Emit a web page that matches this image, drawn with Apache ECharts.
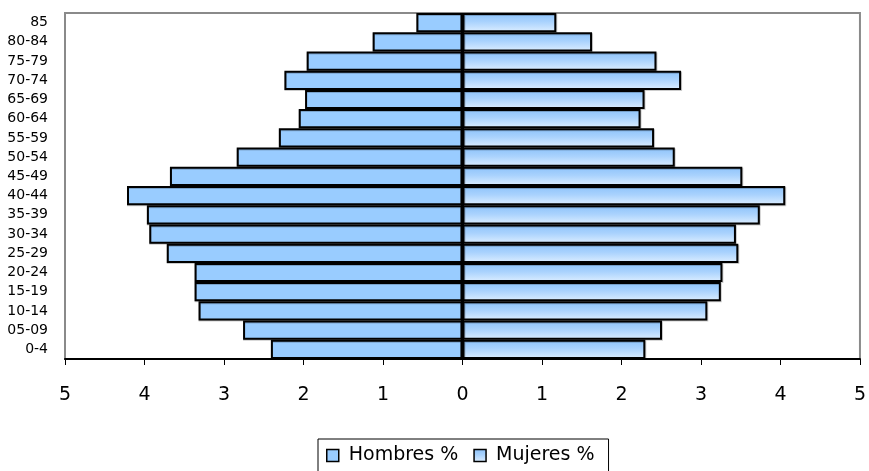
<!DOCTYPE html>
<html>
<head>
<meta charset="utf-8">
<script src="https://cdn.jsdelivr.net/npm/echarts@6/dist/echarts.min.js"></script>
<style>html,body{margin:0;padding:0;background:#fff}#c{width:869px;height:471px}</style>
</head>
<body>
<div id="c"></div>
<script>
var categories = ['0-4','05-09','10-14','15-19','20-24','25-29','30-34','35-39','40-44','45-49','50-54','55-59','60-64','65-69','70-74','75-79','80-84','85'];
var hombres = [2.41,2.76,3.32,3.37,3.37,3.72,3.94,3.97,4.22,3.68,2.84,2.31,2.06,1.98,2.24,1.96,1.13,0.58];
var mujeres = [2.30,2.51,3.08,3.25,3.27,3.47,3.44,3.74,4.06,3.52,2.67,2.41,2.24,2.29,2.75,2.44,1.63,1.18];
var xTicks = [-5,-4,-3,-2,-1,0,1,2,3,4,5];

var font = "'DejaVu Sans',Verdana,sans-serif";
var chart = echarts.init(document.getElementById('c'), null, {renderer:'canvas'});
var womenGrad = new echarts.graphic.LinearGradient(0,0,0,1,[
  {offset:0,color:'#8cc2fa'},{offset:0.45,color:'#a9d2fd'},{offset:1,color:'#ddeeff'}]);
chart.setOption({
  animation:false,
  grid:{left:65,right:8,top:13,bottom:112,show:true,borderColor:'#8a8a8a',borderWidth:2,backgroundColor:'#fff'},
  legend:{
    left:318, top:439,
    data:[{name:'Hombres %',icon:'rect'},{name:'Mujeres %',icon:'rect'}],
    borderColor:'#000', borderWidth:1, borderRadius:0,
    padding:[7,14,14,8],
    itemGap:15, itemWidth:12, itemHeight:12,
    itemStyle:{borderColor:'#000',borderWidth:1.5,shadowBlur:0,shadowOffsetX:0,shadowOffsetY:0,shadowColor:'transparent'},
    textStyle:{fontFamily:font,fontSize:19,color:'#000',padding:[0,0,0,5]}
  },
  xAxis:{
    type:'value', min:-5, max:5, interval:1,
    axisLine:{show:true,onZero:false,lineStyle:{color:'#000',width:2}},
    axisTick:{show:true,length:6,lineStyle:{color:'#000',width:1}},
    splitLine:{show:false},
    axisLabel:{fontFamily:font,fontSize:19,color:'#000',margin:27,
      formatter:function(v){return String(Math.abs(v));}}
  },
  yAxis:{
    type:'category', data:categories,
    axisLine:{show:false}, axisTick:{show:false},
    axisLabel:{fontFamily:font,fontSize:14,color:'#000',margin:17,interval:0}
  },
  series:[
    {name:'Hombres %',type:'bar',stack:'p',barCategoryGap:0,
     data:hombres.map(function(v){return -v;}),
     itemStyle:{color:'#99ccff',borderColor:'#000',borderWidth:2,
       shadowColor:'rgba(0,0,0,0.2)',shadowOffsetX:0,shadowOffsetY:1,shadowBlur:0}},
    {name:'Mujeres %',type:'bar',stack:'p',barCategoryGap:0,
     data:mujeres,
     itemStyle:{color:womenGrad,borderColor:'#000',borderWidth:2,
       shadowColor:'rgba(0,0,0,0.2)',shadowOffsetX:1,shadowOffsetY:1,shadowBlur:0},
     markLine:{silent:true,symbol:'none',z:20,label:{show:false},
       lineStyle:{color:'#000',width:3,type:'solid'},
       emphasis:{disabled:true},
       data:[{xAxis:0}]}}
  ]
});
</script>
</body>
</html>
